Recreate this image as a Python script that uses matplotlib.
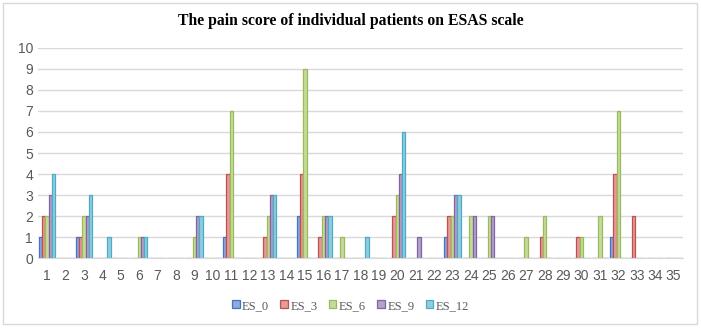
import numpy as np
import matplotlib.pyplot as plt
from matplotlib.patches import Rectangle

patients = list(range(1, 36))

# pain score per patient (1..35) for each assessment
es_0 = [1, 0, 1, 0, 0, 0, 0, 0, 0, 0, 1, 0, 0, 0, 2, 0, 0, 0, 0, 0,
        0, 0, 1, 0, 0, 0, 0, 0, 0, 0, 0, 1, 0, 0, 0]
es_3 = [2, 0, 1, 0, 0, 0, 0, 0, 0, 0, 4, 0, 1, 0, 4, 1, 0, 0, 0, 2,
        0, 0, 2, 0, 0, 0, 0, 1, 0, 1, 0, 4, 2, 0, 0]
es_6 = [2, 0, 2, 0, 0, 1, 0, 0, 1, 0, 7, 0, 2, 0, 9, 2, 1, 0, 0, 3,
        0, 0, 2, 2, 2, 0, 1, 2, 0, 1, 2, 7, 0, 0, 0]
es_9 = [3, 0, 2, 0, 0, 1, 0, 0, 2, 0, 0, 0, 3, 0, 0, 2, 0, 0, 0, 4,
        1, 0, 3, 2, 2, 0, 0, 0, 0, 0, 0, 0, 0, 0, 0]
es_12 = [4, 0, 3, 1, 0, 1, 0, 0, 2, 0, 0, 0, 3, 0, 0, 2, 0, 1, 0, 6,
         0, 0, 3, 0, 0, 0, 0, 0, 0, 0, 0, 0, 0, 0, 0]

series = {'ES_0': es_0, 'ES_3': es_3, 'ES_6': es_6, 'ES_9': es_9, 'ES_12': es_12}
edge_colors = ['#4472C4', '#C0504D', '#9BBB59', '#8064A2', '#4BACC6']
face_colors = ['#8FAADC', '#E39A98', '#C6DA9C', '#B3A2C9', '#93CDDD']

fig = plt.figure(figsize=(7.01, 3.28), dpi=100)
ax = fig.add_axes([0.054, 0.213, 0.92, 0.641])

x = np.arange(len(patients))
width = 0.18
for i, (name, vals) in enumerate(series.items()):
    ax.bar(x + (i - 2) * width, vals, width, label=name,
           facecolor=face_colors[i], edgecolor=edge_colors[i], linewidth=0.9)

ax.set_xlim(-0.5, len(patients) - 0.5)
ax.set_ylim(0, 10)
ax.set_yticks(range(0, 11))
ax.set_xticks(x)
ax.set_xticklabels([str(p) for p in patients])
ax.tick_params(length=0, colors='#595959', labelsize=10)
ax.tick_params(axis='x', pad=8)
for lbl in ax.get_xticklabels() + ax.get_yticklabels():
    lbl.set_family('Liberation Sans')
ax.grid(axis='y', color='#D9D9D9', linewidth=1)
ax.set_axisbelow(True)
for s in ['top', 'right', 'left']:
    ax.spines[s].set_visible(False)
ax.spines['bottom'].set_color('#D9D9D9')

fig.text(0.5, 0.935, 'The pain score of individual patients on ESAS scale',
         ha='center', va='center', fontsize=11.3, fontweight='bold',
         family='Liberation Serif')

leg = fig.legend(loc='center', bbox_to_anchor=(0.5, 0.068), ncol=5, frameon=False,
                 prop={'family': 'Liberation Serif', 'size': 9},
                 handlelength=0.6, handleheight=0.6, handletextpad=0.2,
                 columnspacing=0.9)
for t in leg.get_texts():
    t.set_color('#595959')

fig.patches.append(Rectangle((0.004, 0.012), 0.991, 0.98, transform=fig.transFigure,
                             fill=False, edgecolor='#D9D9D9', linewidth=1))

fig.savefig('out.png', dpi=100)
